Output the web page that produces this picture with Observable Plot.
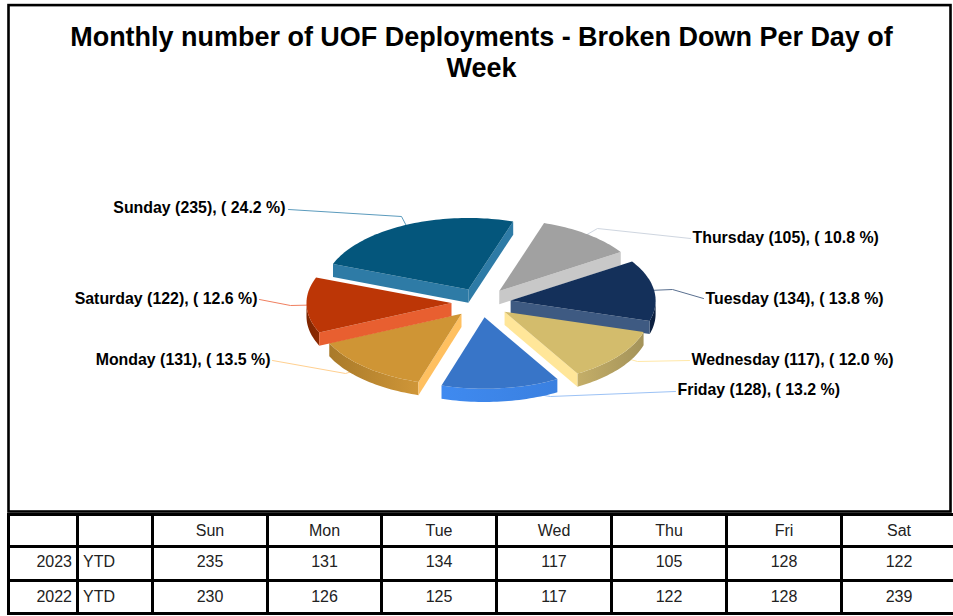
<!DOCTYPE html>
<html>
<head>
<meta charset="utf-8">
<script src="https://cdn.jsdelivr.net/npm/d3@7"></script>
<script src="https://cdn.jsdelivr.net/npm/@observablehq/plot@0.6"></script>
<style>
html,body{margin:0;padding:0;background:#fff;overflow:hidden;width:953px;height:616px}
#chart svg{display:block;position:absolute;left:0;top:0}
#tbl{position:absolute;left:7px;top:513px;border-collapse:collapse;table-layout:fixed;width:949px;
 font-family:"Liberation Sans",Arial,sans-serif;font-size:16px;color:#222}
#tbl td{border:3px solid #000;padding:0;text-align:center;box-sizing:border-box}
#tbl td.yr{text-align:right;padding-right:4px}
#tbl td.ytd{text-align:left;padding-left:4px}
</style>
</head>
<body>
<div id="chart"></div>
<table id="tbl"></table>
<script>
const titleText = "Monthly number of UOF Deployments - Broken Down Per Day of\nWeek";
const tableDays = ["Sun","Mon","Tue","Wed","Thu","Fri","Sat"];
const values2023 = [235,131,134,117,105,128,122];
const values2022 = [230,126,125,117,122,128,239];
const years = ["2023","2022"];
const periodLabel = "YTD";

// pie order, clockwise from the top
const sliceNames  = ["Thursday","Tuesday","Wednesday","Friday","Monday","Saturday","Sunday"];
const sliceValues = [105,134,117,128,131,122,235];

// styles, per slice
const topColors   = ["#a1a1a1","#14305a","#d3bc6c","#3875c8","#cf9535","#bc3606","#04567c"];
const faceColors  = ["#c8c8c8","#3e5a82","#ffe699","#3e87ea","#ffc060","#e85f30","#2e7ba6"];
const wallLeft    = ["#808080","#0c2040","#c4ae68","#3f8af0","#a97a2a","#7e2500","#034060"];
const wallRight   = ["#808080","#0c2040","#a4935a","#3a80e0","#cf9638","#8c2a02","#034060"];
const leaderColors= ["#cfd6e0","#5a7090","#ffe8a8","#9cc2f5","#ffd090","#f08060","#5b9bbd"];

// layout: pixel geometry of the page and of the pie
const W = 953, H = 514;
const frame = {l:8, t:4.6, r:950, b:511};
const C = {x:480.7, y:302.2, rx:145, ry:71.5};
const START = 18, EXPLODE = 0.205, DEPTH = 13.2/71.5;
// label anchors and optional leader elbows, in px
const labelAt = {
  Thursday:{x:692,y:237.8,a:"start",e:[597,228],end:[690,238]},
  Tuesday:{x:705,y:298.8,a:"start",e:[672,289],end:[703,298]},
  Wednesday:{x:691,y:359.8,a:"start",e:[637,361],end:[689,360]},
  Friday:{x:677,y:389.8,a:"start",e:[550,396],end:[675,391]},
  Monday:{x:270,y:359.8,a:"end",e:[345,373],end:[272,360]},
  Saturday:{x:257,y:298.8,a:"end",e:[290,305],end:[259,299]},
  Sunday:{x:285,y:207.8,a:"end",e:[401,216],end:[288,209]}
};
const ux = p => (p - C.x)/C.rx, uy = p => (C.y - p)/C.ry;
const rad = d => d*Math.PI/180;

const total = d3.sum(sliceValues);
let cum = START;
const slices = sliceNames.map((name,i)=>{
  const a0 = cum, a1 = cum + sliceValues[i]/total*360; cum = a1;
  const mid = (a0+a1)/2;
  return {name,i,a0,a1,mid,value:sliceValues[i],
    cx:EXPLODE*Math.sin(rad(mid)), cy:EXPLODE*Math.cos(rad(mid))};
});
const rimPt = (s,a,dz=0)=>({x:s.cx+Math.sin(rad(a)), y:s.cy+Math.cos(rad(a))-dz});
const arc = (a0,a1)=>{const n=Math.max(2,Math.ceil((a1-a0)/1.5)),o=[];
  for(let k=0;k<=n;k++) o.push(a0+(a1-a0)*k/n); return o;};

const polys=[]; let pid=0;
const add=(pts,color)=>{const key=pid++; pts.forEach(p=>polys.push({key,color,x:p.x,y:p.y}));};
const gradients=[];
// painter's order: back slices first
[6,0,1,2,3,4,5].forEach(idx=>{
  const s=slices[idx], apex={x:s.cx,y:s.cy}, apexD={x:s.cx,y:s.cy-DEPTH};
  // outer wall: only the front half of the rim shows
  const w0=Math.max(s.a0,90), w1=Math.min(s.a1,270);
  if(w1>w0){
    const as=arc(w0,w1), id="wall"+idx;
    gradients.push({id,left:wallLeft[idx],right:wallRight[idx]});
    add([...as.map(a=>rimPt(s,a)),...as.slice().reverse().map(a=>rimPt(s,a,DEPTH))],`url(#${id})`);
  }
  // cut faces facing the viewer
  if(Math.sin(rad(s.a0))<0) add([apex,rimPt(s,s.a0),rimPt(s,s.a0,DEPTH),apexD],faceColors[idx]);
  if(Math.sin(rad(s.a1))>0) add([apex,rimPt(s,s.a1),rimPt(s,s.a1,DEPTH),apexD],faceColors[idx]);
  // top
  add([apex,...arc(s.a0,s.a1).map(a=>rimPt(s,a))],topColors[idx]);
});

const leaders=[];
const labels=slices.map(s=>{
  const L=labelAt[s.name], m=rimPt(s,s.mid);
  const pts=[m]; if(L.e) pts.push({x:ux(L.e[0]),y:uy(L.e[1])}); pts.push({x:ux(L.end[0]),y:uy(L.end[1])});
  pts.forEach(p=>leaders.push({name:s.name,color:leaderColors[s.i],x:p.x,y:p.y}));
  return {x:ux(L.x),y:uy(L.y),anchor:L.a,
    text:`${s.name} (${s.value}), ( ${(s.value/total*100).toFixed(1)} %)`};
});

const labelMark = a => Plot.text(labels.filter(d=>d.anchor===a),{x:"x",y:"y",text:"text",textAnchor:a,
  fontWeight:"bold",fontSize:15.9,fill:"#000"});

const defsMark = () => {
  const g=d3.create("svg:defs");
  gradients.forEach(d=>{
    const lg=g.append("linearGradient").attr("id",d.id).attr("x1",0).attr("x2",1).attr("y1",0).attr("y2",0);
    lg.append("stop").attr("offset","0%").attr("stop-color",d.left);
    lg.append("stop").attr("offset","100%").attr("stop-color",d.right);
  });
  return g.node();
};

const plot = Plot.plot({
  width:W,height:H,
  marginLeft:frame.l,marginRight:W-frame.r,marginTop:frame.t,marginBottom:H-frame.b,
  style:{fontFamily:'"Liberation Sans",Arial,sans-serif',background:"#fff"},
  x:{domain:[ux(frame.l),ux(frame.r)],axis:null},
  y:{domain:[uy(frame.b),uy(frame.t)],axis:null},
  color:{type:"identity"},
  marks:[
    defsMark,
    Plot.frame({stroke:"#000",strokeWidth:2.6}),
    Plot.line(leaders,{x:"x",y:"y",z:"name",stroke:"color",strokeWidth:1,curve:"linear"}),
    Plot.line(polys,{x:"x",y:"y",z:"key",fill:"color",strokeWidth:0,curve:"linear"}),
    labelMark("start"),labelMark("end"),
    Plot.text([titleText],{x:()=>ux(481),y:()=>uy(50.6),text:d=>d,fontWeight:"bold",fontSize:26.97,lineHeight:1.15,fill:"#000"})
  ]
});
document.getElementById("chart").append(plot);

// table
const colW=[69,75,115,114,115,115,115,115,115];
const rowH=[32,34,33];
const rowPad=[0,3,1];
const tbl=d3.select("#tbl");
tbl.append("colgroup").selectAll("col").data(colW).join("col").style("width",d=>d+"px");
const rows=[["","",...tableDays],[years[0],periodLabel,...values2023],[years[1],periodLabel,...values2022]];
rows.forEach((r,i)=>{
  const tr=tbl.append("tr").style("height",rowH[i]+"px");
  r.forEach((v,j)=>tr.append("td").attr("class",j===0?"yr":j===1?"ytd":null).style("padding-bottom",rowPad[i]+"px").text(v));
});
</script>
</body>
</html>
